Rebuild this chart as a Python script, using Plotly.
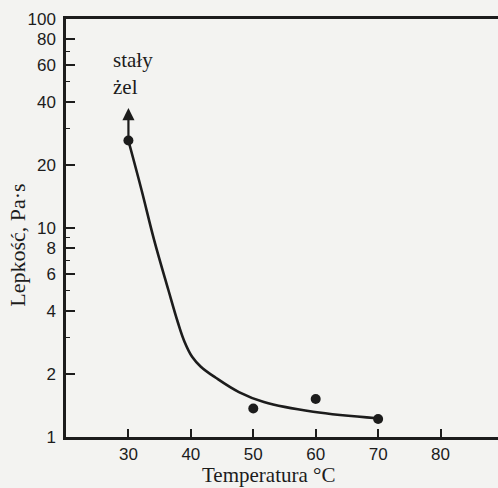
import math
import plotly.graph_objects as go

# Measured points (temperature °C, viscosity Pa·s)
point_temp = [30, 50, 60, 70]
point_visc = [26.2, 1.37, 1.52, 1.22]

# Fitted curve
curve_temp = [30.1, 32.1, 34.1, 36.4, 37.9, 39.0, 40.2, 41.6, 44.0, 47.7, 51.7, 59.6, 69.8]
curve_visc = [25.5, 15.2, 8.8, 5.05, 3.55, 2.85, 2.42, 2.17, 1.92, 1.64, 1.47, 1.32, 1.23]

# "solid gel" arrow end
arrow_temp = 30
arrow_visc = 37.5

x_ticks = [30, 40, 50, 60, 70, 80]
y_ticks = [1, 2, 4, 6, 8, 10, 20, 40, 60, 80, 100]
y_minor = [3, 5, 7, 9, 30, 50, 70]

INK = "#1c1c1c"
BG = "#f3f3f1"
SANS = "Liberation Sans, Arial, sans-serif"
SERIF = "Liberation Serif, Times New Roman, serif"

fig = go.Figure()
fig.add_trace(go.Scatter(
    x=curve_temp, y=curve_visc, mode="lines",
    line=dict(color=INK, width=2.6, shape="spline", smoothing=1.1),
    showlegend=False, hoverinfo="skip"))
fig.add_trace(go.Scatter(
    x=point_temp, y=point_visc, mode="markers",
    marker=dict(color=INK, size=10),
    showlegend=False))

fig.add_annotation(
    x=arrow_temp, y=math.log10(arrow_visc),
    ax=point_temp[0], ay=math.log10(point_visc[0]),
    xref="x", yref="y", axref="x", ayref="y",
    text="", showarrow=True, arrowhead=2, arrowsize=1.1,
    arrowwidth=2.2, arrowcolor=INK)

fig.add_annotation(
    x=27.2, y=1.737, xref="x", yref="y",
    text="stały<br>żel", showarrow=False, align="left",
    xanchor="left", yanchor="middle",
    font=dict(family=SERIF, size=21, color=INK))

fig.add_annotation(
    x=52.5, y=0, xref="x", yref="paper",
    text="Temperatura °C", showarrow=False,
    xanchor="center", yanchor="middle", yshift=-38,
    font=dict(family=SERIF, size=21, color=INK))

fig.add_annotation(
    x=-0.112, y=0.459, xref="paper", yref="paper",
    text="Lepkość, Pa·s", showarrow=False, textangle=-90,
    xanchor="center", yanchor="middle",
    font=dict(family=SERIF, size=22, color=INK))

fig.update_xaxes(
    range=[20, 89.2], tickvals=x_ticks, ticks="inside", ticklen=8,
    tickwidth=1.5, tickcolor=INK, showline=True, linewidth=2.5,
    linecolor=INK, mirror=True, showgrid=False, zeroline=False,
    tickfont=dict(family=SANS, size=17, color=INK))
fig.update_yaxes(
    type="log", range=[0, 2], tickvals=y_ticks,
    ticktext=[str(v) for v in y_ticks],
    ticks="inside", ticklen=9, tickwidth=1.5, tickcolor=INK,
    minor=dict(tickvals=y_minor, ticks="inside", ticklen=4, tickwidth=1.2, tickcolor=INK),
    showline=True, linewidth=2.5, linecolor=INK, mirror=False,
    showgrid=False, zeroline=False, ticklabelstandoff=4,
    tickfont=dict(family=SANS, size=17, color=INK))

fig.update_layout(
    width=498, height=488,
    margin=dict(l=66, r=0, t=19, b=51),
    paper_bgcolor=BG, plot_bgcolor=BG)

fig.write_html("out.html", config={"displayModeBar": False},
               post_script="document.body.style.margin='0';")
